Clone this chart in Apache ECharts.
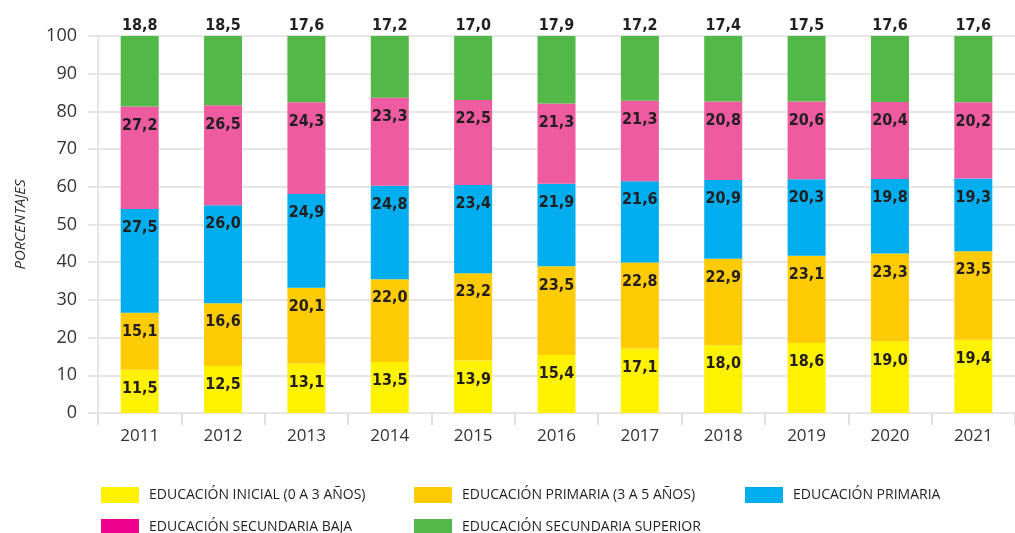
<!DOCTYPE html>
<html>
<head>
<meta charset="utf-8">
<script src="https://cdn.jsdelivr.net/npm/echarts@6/dist/echarts.min.js"></script>
<style>
html,body{margin:0;padding:0;background:#fff;}
#chart{width:1015px;height:533px;}
</style>
</head>
<body>
<div id="chart"></div>
<script>
const years = ['2011','2012','2013','2014','2015','2016','2017','2018','2019','2020','2021'];
const seriesNames = ['EDUCACIÓN INICIAL (0 A 3 AÑOS)','EDUCACIÓN PRIMARIA (3 A 5 AÑOS)','EDUCACIÓN PRIMARIA','EDUCACIÓN SECUNDARIA BAJA','EDUCACIÓN SECUNDARIA SUPERIOR'];
const inicial = [11.5, 12.5, 13.1, 13.5, 13.9, 15.4, 17.1, 18.0, 18.6, 19.0, 19.4];
const primaria35 = [15.1, 16.6, 20.1, 22.0, 23.2, 23.5, 22.8, 22.9, 23.1, 23.3, 23.5];
const primaria = [27.5, 26.0, 24.9, 24.8, 23.4, 21.9, 21.6, 20.9, 20.3, 19.8, 19.3];
const secBaja = [27.2, 26.5, 24.3, 23.3, 22.5, 21.3, 21.3, 20.8, 20.6, 20.4, 20.2];
const secSuperior = [18.8, 18.5, 17.6, 17.2, 17.0, 17.9, 17.2, 17.4, 17.5, 17.6, 17.6];
const yTicks = [0,10,20,30,40,50,60,70,80,90,100];

const barColors = ['#FFF200','#FFCB05','#00AEEF','#EE5BA0','#52B848'];
const legendColors = ['#FFF200','#FFCB05','#00AEEF','#EC008C','#52B848'];
const allData = [inicial, primaria35, primaria, secBaja, secSuperior];

// pick a condensed font if one is installed
function hasFont(name) {
  const c = document.createElement('canvas').getContext('2d');
  const t = 'EDUCACIÓN 27,2 18,8';
  c.font = 'bold 40px monospace';
  const a = c.measureText(t).width;
  c.font = 'bold 40px "' + name + '", monospace';
  const b = c.measureText(t).width;
  return Math.abs(a - b) > 0.5;
}
const condensedCandidates = ['Liberation Sans Narrow','DejaVu Sans Condensed','Noto Sans Condensed','Open Sans Condensed','Roboto Condensed','Arial Narrow'];
let labelFont = null;
for (const f of condensedCandidates) { if (hasFont(f)) { labelFont = f; break; } }
let labelSize = 17;
if (!labelFont) { labelFont = 'Liberation Sans'; labelSize = 15; }
if (labelFont === 'DejaVu Sans Condensed') { labelSize = 16; }
const fmt = p => p.value.toFixed(1).replace('.', ',');

const series = allData.map((d, i) => ({
  name: seriesNames[i],
  type: 'bar',
  stack: 'total',
  data: d,
  barWidth: 38,
  itemStyle: { color: barColors[i] },
  label: {
    show: true,
    position: i === 4 ? 'top' : 'insideTop',
    distance: i === 4 ? 2 : 11,
    formatter: fmt,
    color: '#231F20',
    fontFamily: '"' + labelFont + '", sans-serif',
    fontWeight: 'bold',
    fontSize: labelSize
  }
}));

const legendPos = [[101,487],[414,487],[745,487],[101,519],[414,519]];
const legends = seriesNames.map((n, i) => ({
  data: [{ name: n, itemStyle: { color: legendColors[i] } }],
  left: legendPos[i][0],
  top: legendPos[i][1],
  padding: 0,
  itemWidth: 38,
  itemHeight: 16,
  icon: 'rect',
  selectedMode: false,
  textStyle: {
    fontFamily: '"Open Sans",sans-serif',
    fontSize: 14,
    color: '#231F20',
    padding: [0,0,0,5]
  }
}));

const chart = echarts.init(document.getElementById('chart'));
chart.setOption({
  animation: false,
  backgroundColor: '#fff',
  legend: legends,
  grid: { left: 98, top: 36, width: 924, height: 377, containLabel: false },
  xAxis: {
    type: 'category',
    data: years,
    axisLine: { lineStyle: { color: '#e6e6e6', width: 2 } },
    axisTick: { show: true, length: 12, lineStyle: { color: '#e0e0e0', width: 2 } },
    axisLabel: { color: '#333', fontSize: 17, margin: 15, fontFamily: '"Open Sans",sans-serif' }
  },
  yAxis: {
    type: 'value',
    min: yTicks[0],
    max: yTicks[yTicks.length - 1],
    interval: 10,
    name: 'PORCENTAJES',
    nameLocation: 'middle',
    nameGap: 70,
    nameTextStyle: { fontStyle: 'italic', fontSize: 15, color: '#333', fontFamily: '"Open Sans",sans-serif' },
    axisLine: { show: true, lineStyle: { color: '#e6e6e6', width: 2 } },
    axisTick: { show: true, length: 10, lineStyle: { color: '#e6e6e6', width: 2 } },
    axisLabel: { color: '#333', fontSize: 18, margin: 21, fontFamily: '"Open Sans",sans-serif' },
    splitLine: { lineStyle: { color: '#e6e6e6', width: 2 } }
  },
  series: series
});
</script>
</body>
</html>
